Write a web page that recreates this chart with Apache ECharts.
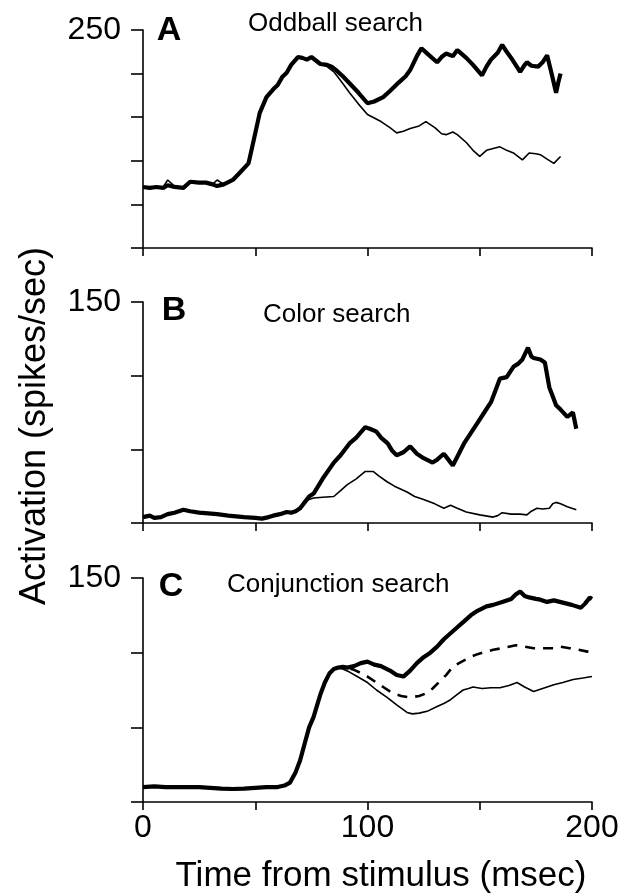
<!DOCTYPE html>
<html>
<head>
<meta charset="utf-8">
<script src="https://cdn.jsdelivr.net/npm/echarts@6/dist/echarts.min.js"></script>
<style>
html,body{margin:0;padding:0;background:#fff;}
#chart{width:632px;height:895px;}
</style>
</head>
<body>
<div id="chart"></div>
<script>
// ---------- Data (time in msec, activation in spikes/sec) ----------
// Panel A: Oddball search
const aThickT = [0,3,6,9,11,14,18,21,25,28,31,33,36,40,43,47,49,52,55,58,60,62,64,66,69,71,73,75,77,79,82,84,86,89,92,96,100,103,107,110,114,117,119,122,124,127,131,133,135,138,140,144,147,151,153,155,158,160,162,164,166,168,170,171,173,176,178,180,182,184,185,186];
const aThickV = [70,69,70,69,72,70,69,76,75,75,73,71,73,78,86,97,120,155,173,182,187,196,201,210,219,218,216,219,215,211,210,208,204,197,189,178,166,168,173,180,190,197,204,220,229,222,213,219,223,220,227,218,210,198,208,216,224,233,225,218,210,202,210,213,209,208,213,221,200,178,190,200];
const aThinT = [0,3,6,9,11,14,18,21,25,28,31,33,36,40,43,47,49,52,55,58,60,62,64,66,69,71,73,75,77,79,82,85,88,92,96,100,103,106,110,113,116,119,123,126,130,133,135,138,140,144,147,150,153,156,159,162,165,169,172,175,177,180,183,186];
const aThinV = [70,69,70,70,78,71,69,76,75,75,73,78,73,78,86,97,120,155,173,182,187,196,201,210,219,218,216,219,215,211,208,202,192,178,165,153,149,145,138,132,134,137,140,145,138,131,130,133,130,121,112,105,112,114,116,112,109,101,109,108,107,102,97,105];

// Panel B: Color search
const bThickT = [0,3,5,8,11,14,18,21,25,29,33,38,45,50,53,56,58,61,64,66,68,70,72,74,76,80,85,88,92,95,99,101,104,106,109,111,113,116,119,122,125,129,131,134,136,138,140,143,146,149,152,155,157,159,162,165,167,169,171.5,173,174,177,179,181,182.5,184,186,189,191.5,193];
const bThickV = [4,5,3.5,4,6,7,9,8,7,6.5,6,5,4,3.5,3,4,5,6,7.5,7,8,10,14,18,20,30,41,46,54,58,65,64,62,58,54,49,46,48,52,47,44,41,43,47,43,39,45,54,61,68,75,82,90,98,99,106,108,111,119,113,112,111,109,92,86,80,77,72,75,64];
const bThinT = [0,3,5,8,11,14,18,21,25,29,33,38,45,50,53,56,58,61,64,66,68,70,72,74,76,80,85,88,91,95,99,102.5,105,108.7,112,117.6,121,125,130,134,137,140,144,150,156,158,160,164,168,171,173,175.5,178,181,182.5,184,186,189,191,193];
const bThinV = [4,5,3.5,4,6,7,9,8,7,6.5,6,5,4,3.5,3,4,5,6,7.5,7,8,10,14,16,17,17.5,18,22,26,30,35,35,32,28,25,21,18,16,13,10,12,10,7.5,5.5,4,5,7,6,6,5.5,8,10,9.5,10,13,14,13,11,10,9];

// Panel C: Conjunction search
const cThickT = [0,5,10,15,20,25,30,35,40,45,50,55,60,63,65.5,68,70,72,74,76,78,79,81,83,85,87,89,91,94,97,100,103,106,110,113,116,119,122,125,128,131,134,137,140,143,146,149,153,156,160,164,166,168,170,172,175,177,180,183,187,191,195,197,199,200];
const cThickV = [10,10.5,10,10,10,10,9.5,9,8.7,9,9.5,10,10,11,13,20,28,39,50,57,67,72,80,86,89,90,90.5,90,91,93,94,92,91,88,85,84,88,93,97,100,104,109,113,117,121,125,128,131,132,134,136,139,141,138,137,136,135.5,134,135,133.5,132,130,133,137,136];
const cDashT = [0,5,10,15,20,25,30,35,40,45,50,55,60,63,65.5,68,70,72,74,76,78,79,81,83,85,87,89,91,94,96.7,100,104,107,111,115,119,123,126.5,129,132,135,138,142,145.7,149,153,156,160,163,166,170,174,178,183,186,190,194,198,200];
const cDashV = [10,10.5,10,10,10,10,9.5,9,8.7,9,9.5,10,10,11,13,20,28,39,50,57,67,72,80,86,89,90,90.5,90,88.5,86.6,84,80,77,73,71,70,71,73,76,80.5,85,90.6,94,97,99,100.7,102,103,104,105,104,103,103,103,104,103,102,100.7,100];
const cThinT = [0,5,10,15,20,25,30,35,40,45,50,55,60,63,65.5,68,70,72,74,76,78,79,81,83,85,87,89,92,96,100,104,108.7,113,117.6,120,123,127,131,134,137,140,142.6,145,147,151,155,159,163,166.6,170,174,178,183,187,191.6,196,200];
const cThinV = [10,10.5,10,10,10,10,9.5,9,8.7,9,9.5,10,10,11,13,20,28,39,50,57,67,72,80,86,89,90,89,87,83.5,80,75,70,65,60,59,59.5,61,64,66,68.5,72,75,76,77,76,76.5,76.5,78,80,77,74,76,78.5,80,82,83,84];

// Axis settings / labels
const xMin = 0, xMax = 200, xStep = 50;
const xTickLabels = ['0', '100', '200'];
const yMaxA = 250, yMaxB = 150, yMaxC = 150, yStep = 50;
const panelLetters = ['A', 'B', 'C'];
const panelTitles = ['Oddball search', 'Color search', 'Conjunction search'];
const xAxisTitle = 'Time from stimulus (msec)';
const yAxisTitle = 'Activation (spikes/sec)';

// ---------- Chart ----------
const FONT = "'Liberation Sans', Arial, sans-serif";
const zip = (t, v) => t.map((x, i) => [x, v[i]]);

const grids = [
  {left: 143, right: 40, top: 30, height: 218},
  {left: 143, right: 40, top: 302, height: 221},
  {left: 143, right: 40, top: 578, height: 224}
];
const yMaxes = [yMaxA, yMaxB, yMaxC];

const xAxes = grids.map((g, i) => ({
  type: 'value', gridIndex: i, min: xMin, max: xMax, interval: xStep,
  axisLine: {show: true, onZero: false, lineStyle: {color: '#000', width: 1.6}},
  axisTick: {show: true, inside: false, length: 8, lineStyle: {color: '#000', width: 1.6}},
  splitLine: {show: false},
  axisLabel: {
    show: i === 2, margin: 10, color: '#000', fontFamily: FONT, fontSize: 32,
    formatter: v => xTickLabels.indexOf(String(v)) >= 0 ? String(v) : ''
  }
}));

const yAxes = grids.map((g, i) => ({
  type: 'value', gridIndex: i, min: 0, max: yMaxes[i], interval: yStep,
  axisLine: {show: true, onZero: false, lineStyle: {color: '#000', width: 1.6}},
  axisTick: {show: true, inside: false, length: 12, lineStyle: {color: '#000', width: 1.6}},
  splitLine: {show: false},
  axisLabel: {
    show: true, margin: 22, color: '#000', fontFamily: FONT, fontSize: 32,
    formatter: v => v === yMaxes[i] ? String(v) : ''
  }
}));

const thin = {color: '#000', width: 1.6};
const thick = {color: '#000', width: 4.2};
const mk = (idx, data, style, z) => ({
  type: 'line', xAxisIndex: idx, yAxisIndex: idx, data: data,
  showSymbol: false, symbol: 'none', lineStyle: style, z: z, animation: false,
  silent: true
});

const series = [
  mk(0, zip(aThinT, aThinV), thin, 2),
  mk(0, zip(aThickT, aThickV), thick, 3),
  mk(1, zip(bThinT, bThinV), thin, 2),
  mk(1, zip(bThickT, bThickV), thick, 3),
  mk(2, zip(cThinT, cThinV), thin, 2),
  mk(2, zip(cDashT, cDashV), {color: '#000', width: 2.6, type: [10, 8]}, 2),
  mk(2, zip(cThickT, cThickV), thick, 3)
];

const letterPos = [[169, 31], [174, 311], [171, 587]];
const titlePos = [[248, 24], [263, 315], [227, 585]];
const graphic = [];
panelLetters.forEach((l, i) => {
  graphic.push({type: 'text', x: letterPos[i][0], y: letterPos[i][1],
    style: {text: l, font: 'bold 34px ' + FONT, fill: '#000', textAlign: 'center', textVerticalAlign: 'middle'}});
  graphic.push({type: 'text', x: titlePos[i][0], y: titlePos[i][1],
    style: {text: panelTitles[i], font: '26px ' + FONT, fill: '#000', textAlign: 'left', textVerticalAlign: 'middle'}});
});
graphic.push({type: 'text', x: 381, y: 876,
  style: {text: xAxisTitle, font: '35px ' + FONT, fill: '#000', textAlign: 'center', textVerticalAlign: 'middle'}});
graphic.push({type: 'text', x: 35, y: 426, rotation: Math.PI / 2,
  style: {text: yAxisTitle, font: '36px ' + FONT, fill: '#000', textAlign: 'center', textVerticalAlign: 'middle'}});

const chart = echarts.init(document.getElementById('chart'), null, {renderer: 'canvas'});
chart.setOption({
  animation: false,
  backgroundColor: '#fff',
  grid: grids,
  xAxis: xAxes,
  yAxis: yAxes,
  series: series,
  graphic: graphic
});
</script>
</body>
</html>
